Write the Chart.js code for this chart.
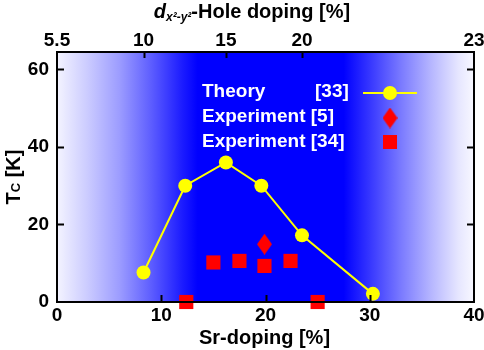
<!DOCTYPE html>
<html>
<head>
<meta charset="utf-8">
<script src="https://cdn.jsdelivr.net/npm/chart.js@4.4.1/dist/chart.umd.min.js"></script>
<style>
  html, body { margin: 0; padding: 0; background: #fff; }
  #wrap { width: 484px; height: 350px; }
</style>
</head>
<body>
<div id="wrap"><canvas id="tcChart" width="484" height="350"></canvas></div>
<script>
// Sr-doping (%) vs Tc (K)
const theoryX = [8.3, 12.3, 16.2, 19.6, 23.5, 30.3];
const theoryY = [7.6, 30.0, 36.0, 30.0, 17.2, 2.1];
const exp5X = [19.9];
const exp5Y = [14.9];
const exp34X = [12.4, 15.0, 17.5, 19.9, 22.4, 25.0];
const exp34Y = [0, 10.2, 10.6, 9.3, 10.6, 0];

// top axis: hole doping ticks placed at Sr-doping values
const topTickPos = [0, 8.3, 16.2, 23.5, 40];
const topTickLabels = ['5.5', '10', '15', '20', '23'];

const legendLabels = ['Theory', 'Experiment [5]', 'Experiment [34]'];
const legendRefs = ['[33]', '', ''];

const FONT = "'Liberation Sans', Arial, sans-serif";
const YELLOW = '#ffff00';
const RED = '#ff0000';

const toPts = (xs, ys) => xs.map((x, i) => ({ x: x, y: ys[i] }));

// taller-than-wide diamond for Experiment [5]
function makeDiamond(w, h, color) {
    let c = document.createElement('canvas');
    c.width = w; c.height = h;
    let g = c.getContext('2d');
    g.fillStyle = color;
    g.beginPath();
    g.moveTo(w / 2, 0);
    g.lineTo(w, h / 2);
    g.lineTo(w / 2, h);
    g.lineTo(0, h / 2);
    g.closePath();
    g.fill();
    return c;
}
const diamond = makeDiamond(15, 21, RED);

const bgPlugin = {
    id: 'bg',
    beforeDatasetsDraw(chart) {
        const { ctx, chartArea: a, scales } = chart;
        const x0 = scales.x.getPixelForValue(0), x1 = scales.x.getPixelForValue(40);
        const grad = ctx.createLinearGradient(x0, 0, x1, 0);
        const stops = [
            [0, '#f4f4ff'], [3, '#cacaff'], [6, '#9c9cff'], [9, '#5e5eff'],
            [12, '#1c1cff'], [13.5, '#0000ff'], [27.5, '#0000ff'], [30, '#3636ff'],
            [33, '#7a7aff'], [36, '#b8b8ff'], [38.5, '#e6e6ff'], [40, '#f8f8ff']
        ];
        stops.forEach(s => grad.addColorStop(s[0] / 40, s[1]));
        ctx.save();
        ctx.fillStyle = grad;
        ctx.fillRect(a.left, a.top, a.right - a.left, a.bottom - a.top);
        ctx.restore();
    }
};

const framePlugin = {
    id: 'frame',
    afterDatasetsDraw(chart) {
        const { ctx, chartArea: a, scales } = chart;
        ctx.save();
        ctx.strokeStyle = '#000';
        ctx.lineWidth = 2;
        // inward ticks
        ctx.beginPath();
        [10, 20, 30].forEach(v => {
            const px = Math.round(scales.x.getPixelForValue(v)) + 0.5;
            ctx.moveTo(px, a.bottom); ctx.lineTo(px, a.bottom - 7);
        });
        [20, 40, 60].forEach(v => {
            const py = Math.round(scales.y.getPixelForValue(v)) + 0.5;
            ctx.moveTo(a.left, py); ctx.lineTo(a.left + 7, py);
            ctx.moveTo(a.right, py); ctx.lineTo(a.right - 7, py);
        });
        topTickPos.slice(1, -1).forEach(v => {
            const px = Math.round(scales.x2.getPixelForValue(v)) + 0.5;
            ctx.moveTo(px, a.top); ctx.lineTo(px, a.top + 6);
        });
        ctx.stroke();
        ctx.strokeRect(a.left, a.top, a.right - a.left, a.bottom - a.top);
        ctx.restore();
    },
    afterDraw(chart) {
        const { ctx, chartArea: a } = chart;
        ctx.save();
        // legend
        ctx.font = 'bold 19px ' + FONT;
        ctx.fillStyle = '#fff';
        ctx.textBaseline = 'middle';
        const lx = 202, ly = [92, 117, 142];
        legendLabels.forEach((t, i) => {
            ctx.textAlign = 'left';
            ctx.fillText(t, lx, ly[i]);
            if (legendRefs[i]) ctx.fillText(legendRefs[i], 315, ly[i]);
        });
        // symbols
        ctx.strokeStyle = YELLOW;
        ctx.lineWidth = 2;
        ctx.beginPath(); ctx.moveTo(363, ly[0] + 1); ctx.lineTo(417, ly[0] + 1); ctx.stroke();
        ctx.fillStyle = YELLOW;
        ctx.beginPath(); ctx.arc(390, ly[0] + 1, 7, 0, Math.PI * 2); ctx.fill();
        ctx.drawImage(diamond, 390 - 7.5, ly[1] + 1 - 10.5);
        ctx.fillStyle = RED;
        ctx.fillRect(383, ly[2] - 7, 14, 14);

        // axis titles
        ctx.fillStyle = '#000';
        ctx.textAlign = 'center';
        ctx.textBaseline = 'alphabetic';
        ctx.font = 'bold 20px ' + FONT;
        ctx.fillText('Sr-doping [%]', (a.left + a.right) / 2 - 1, 344);

        // top title: d_{x²-y²}-Hole doping [%]
        const parts = [
            { t: 'd', f: 'italic bold 20px ' + FONT, dy: 0 },
            { t: 'x\u00b2-y\u00b2', f: 'italic bold 12px ' + FONT, dy: 3 },
            { t: '-Hole doping [%]', f: 'bold 20px ' + FONT, dy: 0 }
        ];
        let total = 0;
        parts.forEach(p => { ctx.font = p.f; p.w = ctx.measureText(p.t).width; total += p.w; });
        let cx = 252 - total / 2;
        ctx.textAlign = 'left';
        parts.forEach(p => { ctx.font = p.f; ctx.fillText(p.t, cx, 18 + p.dy); cx += p.w; });

        // y title: T_C [K]
        ctx.translate(20, 177);
        ctx.rotate(-Math.PI / 2);
        const yp = [
            { t: 'T', f: 'bold 20px ' + FONT, dy: 0 },
            { t: 'C', f: 'bold 13px ' + FONT, dy: 0 },
            { t: ' [K]', f: 'bold 20px ' + FONT, dy: 0 }
        ];
        total = 0;
        yp.forEach(p => { ctx.font = p.f; p.w = ctx.measureText(p.t).width; total += p.w; });
        cx = -total / 2;
        yp.forEach(p => { ctx.font = p.f; ctx.fillText(p.t, cx, p.dy); cx += p.w; });
        ctx.restore();
    }
};

const ctx = document.getElementById('tcChart').getContext('2d');
const tickFont = { family: FONT, size: 19, weight: 'bold' };

let tcChart = new Chart(ctx, {
    type: 'scatter',
    data: {
        datasets: [
            {
                label: 'Theory [33]',
                type: 'line',
                data: toPts(theoryX, theoryY),
                borderColor: YELLOW,
                borderWidth: 2,
                backgroundColor: YELLOW,
                pointBackgroundColor: YELLOW,
                pointBorderWidth: 0,
                pointRadius: 7,
                fill: false,
                tension: 0,
                clip: false,
                order: 3
            },
            {
                label: 'Experiment [5]',
                data: toPts(exp5X, exp5Y),
                pointStyle: diamond,
                clip: false,
                order: 2
            },
            {
                label: 'Experiment [34]',
                data: toPts(exp34X, exp34Y),
                pointStyle: 'rect',
                pointRadius: 10,
                pointBorderWidth: 0,
                backgroundColor: RED,
                borderColor: RED,
                clip: false,
                order: 1
            }
        ]
    },
    options: {
        responsive: false,
        animation: false,
        events: [],
        layout: { padding: { left: 0, right: 0, top: 0, bottom: 0 } },
        plugins: { legend: { display: false }, tooltip: { enabled: false } },
        scales: {
            x: {
                type: 'linear', position: 'bottom', min: 0, max: 40,
                afterFit: s => { s.height = 48; s.paddingRight = 10; },
                grid: { drawOnChartArea: false, drawTicks: false },
                border: { display: false },
                ticks: { stepSize: 10, font: tickFont, color: '#000', padding: 2, maxRotation: 0 }
            },
            x2: {
                type: 'linear', position: 'top', min: 0, max: 40,
                afterFit: s => { s.height = 52; s.paddingRight = 10; },
                afterBuildTicks: s => { s.ticks = topTickPos.map(v => ({ value: v })); },
                grid: { drawOnChartArea: false, drawTicks: false },
                border: { display: false },
                ticks: {
                    autoSkip: false, maxRotation: 0, font: tickFont, color: '#000', padding: 0,
                    callback: (v, i) => topTickLabels[i]
                }
            },
            y: {
                min: 0, max: 64.5,
                afterFit: s => { s.width = 57; },
                grid: { drawOnChartArea: false, drawTicks: false },
                border: { display: false },
                ticks: { stepSize: 20, includeBounds: false, font: tickFont, color: '#000', padding: 8 }
            }
        }
    },
    plugins: [bgPlugin, framePlugin]
});
</script>
</body>
</html>
